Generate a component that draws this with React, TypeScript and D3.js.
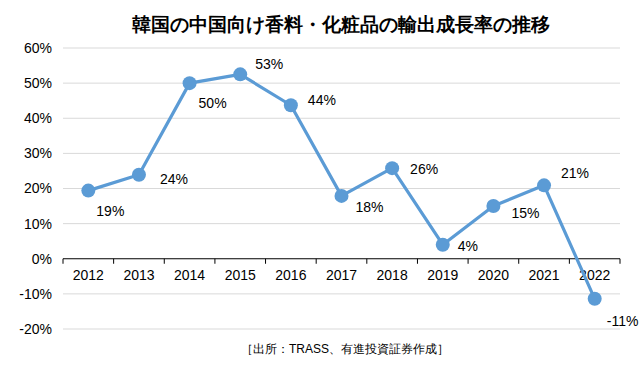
import React from "react";
import * as d3 from "d3";

// data
const years = ["2012", "2013", "2014", "2015", "2016", "2017", "2018", "2019", "2020", "2021", "2022"];
const growth = [19.4, 23.9, 50.0, 52.5, 43.7, 17.9, 25.8, 4.0, 15.0, 20.9, -11.4];
const yTicks = [60, 50, 40, 30, 20, 10, 0, -10, -20];

// label nudges (px) so labels sit like the original
const labelDx = [22, 35, 23, 29, 31, 28, 32, 25, 32, 31, 28];
const labelDy = [20, 4, 20, -10, -5, 11, 1, 1, 7, -12, 22];

const W = 644;
const H = 366;
const font = "'Liberation Sans', Arial, sans-serif";
const blue = "#5B9BD5";

export default function App() {
  const x = d3.scaleBand().domain(years).range([63, 620]);
  const y = d3.scaleLinear().domain([-20, 60]).range([329, 48]);

  const line = d3
    .line<number>()
    .x((d, i) => x(years[i])! + x.bandwidth() / 2)
    .y((d) => y(d));

  const boundaries = years.map((yr) => x(yr)!).concat([620]);

  return (
    <svg width={W} height={H} style={{ position: "absolute", left: 0, top: 0 }} fontFamily={font}>
      <rect width={W} height={H} fill="#fff" />
      <text x={341} y={31} textAnchor="middle" fontSize={18.5} fontWeight="bold" fill="#000">
        韓国の中国向け香料・化粧品の輸出成長率の推移
      </text>

      {/* gridlines */}
      {yTicks.filter((t) => t !== 0).map((t) => (
        <line key={t} x1={63} x2={620} y1={y(t)} y2={y(t)} stroke="#d9d9d9" strokeWidth={1} />
      ))}

      {/* y tick labels */}
      {yTicks.map((t) => (
        <text key={t} x={52} y={y(t)} dy="0.35em" textAnchor="end" fontSize={14} fill="#000">
          {t}%
        </text>
      ))}

      {/* x axis at 0 */}
      <line x1={63} x2={620} y1={y(0)} y2={y(0)} stroke="#000" strokeWidth={1} />
      {boundaries.map((b, i) => (
        <line key={i} x1={b} x2={b} y1={y(0)} y2={y(0) + 5} stroke="#000" strokeWidth={1} />
      ))}
      {years.map((yr) => (
        <text key={yr} x={x(yr)! + x.bandwidth() / 2} y={280} textAnchor="middle" fontSize={14} fill="#000">
          {yr}
        </text>
      ))}

      {/* series */}
      <path d={line(growth) ?? ""} fill="none" stroke={blue} strokeWidth={3.2} strokeLinejoin="round" />
      {growth.map((v, i) => (
        <circle key={i} cx={x(years[i])! + x.bandwidth() / 2} cy={y(v)} r={7} fill={blue} />
      ))}
      {growth.map((v, i) => (
        <text
          key={i}
          x={x(years[i])! + x.bandwidth() / 2 + labelDx[i]}
          y={y(v) + labelDy[i]}
          dy="0.35em"
          textAnchor="middle"
          fontSize={14}
          fill="#000"
        >
          {Math.round(v)}%
        </text>
      ))}

      <text x={345} y={353} textAnchor="middle" fontSize={12} fill="#000">
        ［出所：TRASS、有進投資証券作成］
      </text>
    </svg>
  );
}
